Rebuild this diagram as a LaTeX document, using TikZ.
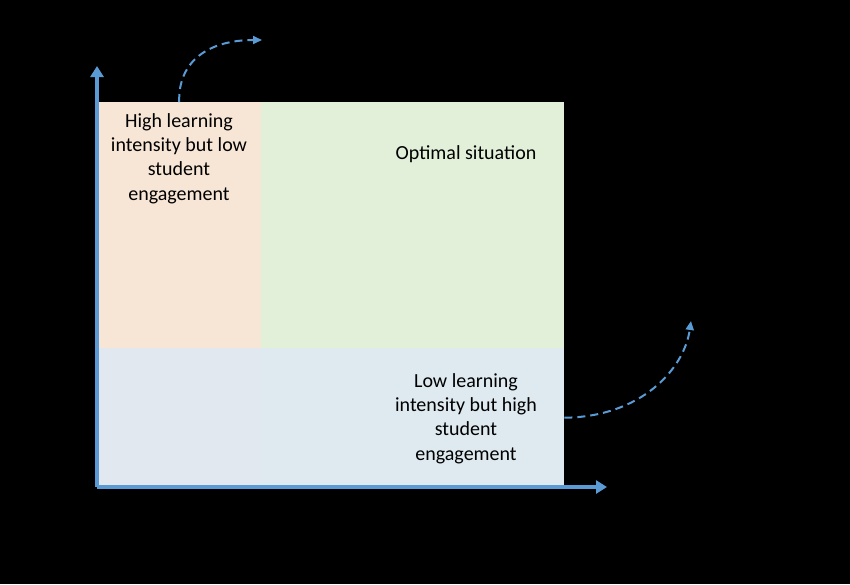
\documentclass[tikz,border=0pt]{standalone}
\usepackage{fontspec}
\setmainfont{Carlito}
\usetikzlibrary{arrows.meta}

\definecolor{axisblue}{HTML}{5B9BD5}
\definecolor{peach}{HTML}{F7E6D5}
\definecolor{palegreen}{HTML}{E2EFD9}
\definecolor{paleblue}{HTML}{E1E8EF}
\definecolor{paleblueb}{HTML}{DEEAF0}

\tikzset{
  cell/.style={draw=none, inner sep=0pt, anchor=north west},
  label/.style={align=center, text=black, font=\fontsize{20}{24.4}\selectfont},
  axis/.style={axisblue, line width=3.5pt, -{Triangle[length=11pt,width=13pt]}},
  jump/.style={axisblue, line width=2pt, dash pattern=on 8pt off 5pt, -{Triangle[length=9pt,width=8pt]}}
}

\begin{document}
\begin{tikzpicture}[x=1pt,y=-1pt]

% Background
\fill[black] (0,0) rectangle (850,584);
\useasboundingbox (0,0) rectangle (850,584);

% Draw the quadrants
\node[cell, fill=peach, minimum width=164pt, minimum height=246pt] (tl) at (97,102) {};
\node[cell, fill=palegreen, minimum width=303pt, minimum height=246pt] (tr) at (261,102) {};
\node[cell, fill=paleblue, minimum width=164pt, minimum height=139pt] (bl) at (97,348) {};
\node[cell, fill=paleblueb, minimum width=303pt, minimum height=139pt] (br) at (261,348) {};

% Draw the labels
\node[label] (tltext) at (179,158.5) {High learning\\intensity but low\\student\\engagement};
\node[label] (trtext) at (466,154.5) {Optimal situation};
\node[label] (brtext) at (466,418.5) {Low learning\\intensity but high\\student\\engagement};

% Draw axes
\coordinate (O) at (97,487);
\coordinate (ytop) at (97,66);
\coordinate (xend) at (607,487);
\draw[axis] (O) -- (ytop);
\draw[axis] (O) -- (xend);

% Draw the dashed moves
\coordinate (up) at (262,40);
\coordinate (right) at (691,321);
\draw[jump] (tl.north) .. controls (178,60) and (210,40) .. (up);
\draw[jump] (br.east) .. controls (640,417) and (684,370) .. (right);

\end{tikzpicture}
\end{document}
